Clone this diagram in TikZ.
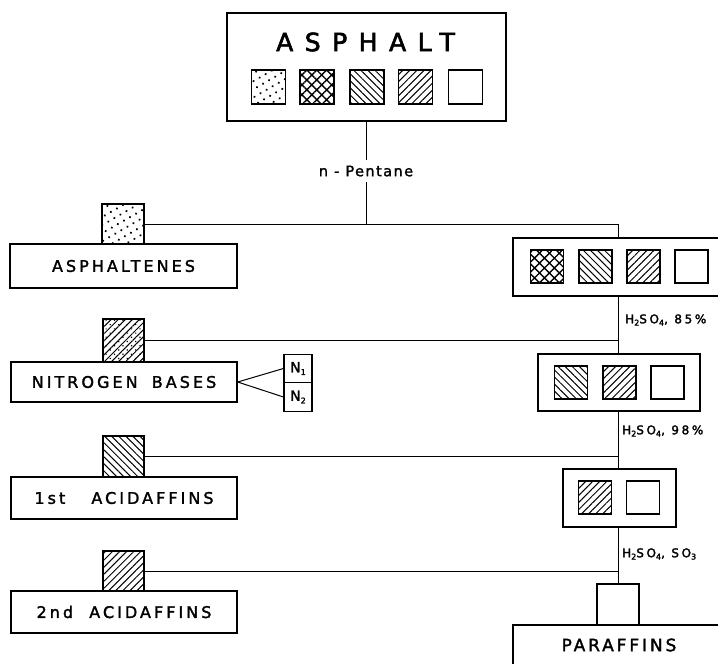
\documentclass[tikz,border=0pt]{standalone}
\usepackage{fontspec}
\setmainfont{DejaVu Sans}
\newfontfamily\bigf{DejaVu Sans}[LetterSpace=46, FakeBold=2.4]
\newfontfamily\labf{DejaVu Sans}[LetterSpace=19, FakeBold=1.8]
\newfontfamily\parf{DejaVu Sans}[LetterSpace=17, FakeBold=1.8]
\newfontfamily\pentf{DejaVu Sans}[LetterSpace=10, FakeBold=1.6]
\newfontfamily\chemf{DejaVu Sans}[LetterSpace=22, FakeBold=2.2]
\newfontfamily\nf{DejaVu Sans}[FakeBold=1.6]
\usetikzlibrary{patterns.meta}
\newcommand\chsub[1]{\raisebox{-0.35ex}{\fontsize{8}{8}\selectfont #1}}
\tikzset{
  box/.style={draw, line width=1.4pt, inner sep=0pt, fill=white},
  sq/.style={draw, line width=1.3pt, inner sep=0pt, minimum size=34pt},
  conn/.style={line width=1pt},
  pdots/.style={pattern={Dots[distance=7pt, radius=1.2pt, angle=30]}},
  pcross/.style={pattern={Hatch[angle=45, distance=7pt, line width=1.4pt]}},
  pback/.style={pattern={Lines[angle=-45, distance=5pt, line width=1pt]}},
  pfwd/.style={pattern={Lines[angle=45, distance=5pt, line width=1pt]}},
  lab/.style={font=\labf\fontsize{16}{16}\selectfont},
  chem/.style={font=\chemf\fontsize{12}{12}\selectfont, inner sep=0pt, anchor=west},
  nlab/.style={draw, line width=1.2pt, inner sep=0pt, minimum width=28pt, minimum height=28.5pt, font=\nf\fontsize{14}{14}\selectfont},
}
\begin{document}
\begin{tikzpicture}[x=1pt,y=-1pt]
\useasboundingbox (0,0) rectangle (718,664);
\clip (0,0) rectangle (718,664);

% top box
\node[box, minimum width=279pt, minimum height=108pt] (asphalt) at (366.5,67) {};
\node[font=\bigf\fontsize{25}{25}\selectfont, inner sep=0pt, anchor=west] (asptext) at (276,42) {ASPHALT};
\node[sq, pdots]  (t1) at (268.5,87) {};
\node[sq, pcross] (t2) at (317,87) {};
\node[sq, pback]  (t3) at (367,87) {};
\node[sq, pfwd]   (t4) at (415.5,87) {};
\node[sq]         (t5) at (465.5,87) {};

% left column
\node[box, lab, minimum width=227pt, minimum height=44pt] (asph) at (123.5,266) {ASPHALTENES};
\node[sq, pdots, minimum width=42pt, minimum height=40pt] (asq) at (123,224) {};

\node[box, lab, minimum width=226pt, minimum height=40pt] (nitro) at (124,382) {NITROGEN\hspace{6pt} BASES};
\node[sq, pfwd, minimum width=41pt, minimum height=43pt, postaction={pattern={Dots[distance=6pt, radius=0.8pt, angle=45]}}] (nsq) at (123.5,340.5) {};
\node[nlab] (n1) at (298,368.5) {N\chsub{1}};
\node[nlab] (n2) at (298,397) {N\chsub{2}};

\node[box, lab, minimum width=226pt, minimum height=42pt] (acid1) at (124,498) {1st\hspace{18pt} ACIDAFFINS};
\node[sq, pback, minimum width=41pt, minimum height=41pt] (a1sq) at (123.5,456.5) {};

\node[box, lab, minimum width=226pt, minimum height=42pt] (acid2) at (124,612) {2nd\hspace{8pt} ACIDAFFINS};
\node[sq, pfwd, minimum width=41pt, minimum height=40pt] (a2sq) at (123.5,571) {};

% right column
\coordinate (spine) at (618,225);
\node[box, minimum width=227pt, minimum height=58pt] (box1) at (626.5,267) {};
\node[sq, pcross, minimum size=33pt] (b1a) at (547,266.5) {};
\node[sq, pback,  minimum size=33pt] (b1b) at (595.5,266.5) {};
\node[sq, pfwd,   minimum size=33pt] (b1c) at (643.5,266.5) {};
\node[sq,         minimum size=33pt] (b1d) at (691.5,266.5) {};

\node[box, minimum width=162pt, minimum height=57pt] (box2) at (619,382.5) {};
\node[sq, pback, minimum size=33pt] (b2a) at (571,382.5) {};
\node[sq, pfwd,  minimum size=33pt] (b2b) at (619.5,382.5) {};
\node[sq,        minimum size=33pt] (b2c) at (667.5,382.5) {};

\node[box, minimum width=113pt, minimum height=58pt] (box3) at (619.5,498) {};
\node[sq, pfwd, minimum size=33pt] (b3a) at (595,497.5) {};
\node[sq,       minimum size=33pt] (b3b) at (643,497.5) {};

\node[sq, minimum width=42pt, minimum height=41pt] (psq) at (618,604.5) {};
\node[box, minimum width=227pt, minimum height=75pt] (paraf) at (626.5,662.5) {};
\node[font=\parf\fontsize{17}{17}\selectfont, inner sep=0pt] (ptext) at (619,645) {PARAFFINS};

% connectors
\draw[conn] (asphalt.south) -- (asphalt.south |- asq.east);
\draw[conn] (asq.east) -- (asq.east -| spine) -- (box1.north -| spine);
\draw[conn] (box1.south -| spine) -- (box2.north -| spine);
\draw[conn] (box2.south -| spine) -- (box3.north -| spine);
\draw[conn] (box3.south -| spine) -- (psq.north -| spine);
\draw[conn] (nsq.east) -- (nsq.east -| spine);
\draw[conn] (a1sq.east) -- (a1sq.east -| spine);
\draw[conn] (a2sq.east) -- (a2sq.east -| spine);
\draw[conn] (nitro.east) -- (n1.west);
\draw[conn] (nitro.east) -- (n2.west);

\node[fill=white, inner xsep=1pt, inner ysep=6pt, font=\pentf\fontsize{14.5}{15}\selectfont] (pent) at (366,171) {n - Pentane};

\node[chem] (l1) at (625,320) {H\chsub{2}SO\chsub{4}, 85\%};
\node[chem] (l2) at (622,431) {H\chsub{2}SO\chsub{4}, 98\%};
\node[chem] (l3) at (622,554) {H\chsub{2}SO\chsub{4}, SO\chsub{3}};
\end{tikzpicture}
\end{document}
